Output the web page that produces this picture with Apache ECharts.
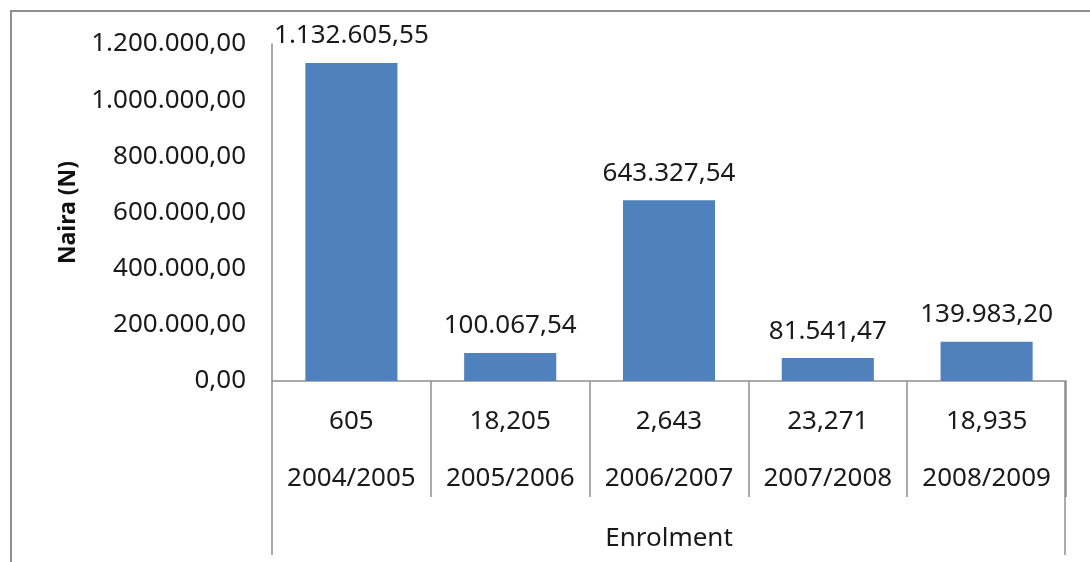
<!DOCTYPE html>
<html>
<head>
<meta charset="utf-8">
<script src="https://cdn.jsdelivr.net/npm/echarts@6/dist/echarts.min.js"></script>
<style>
html,body{margin:0;padding:0;background:#fff;overflow:hidden;}
#frame{position:absolute;left:10px;top:10px;width:1200px;height:700px;border-left:2px solid #8e8e8e;border-top:2px solid #8e8e8e;}
#chart{position:absolute;left:0;top:0;width:1090px;height:562px;}
</style>
</head>
<body>
<div id="frame"></div>
<div id="chart"></div>
<script>
const years = ['2004/2005','2005/2006','2006/2007','2007/2008','2008/2009'];
const enrolment = ['605','18,205','2,643','23,271','18,935'];
const naira = [1132605.55, 100067.54, 643327.54, 81541.47, 139983.20];
const yTicks = {min: 0, max: 1200000, interval: 200000};
const xTitle = 'Enrolment';
const yTitle = 'Naira (N)';

function fmt(v){
  const parts = Number(v).toFixed(2).split('.');
  const intPart = parts[0].replace(/\B(?=(\d{3})+(?!\d))/g, '.');
  return intPart + ',' + parts[1];
}

const font = '"Noto Sans", "Open Sans", sans-serif';
const chart = echarts.init(document.getElementById('chart'));
chart.setOption({
  animation: false,
  textStyle: {fontFamily: font},
  grid: {left: 272, right: 24, top: 44, bottom: 181, containLabel: false},
  xAxis: [{
    type: 'category',
    position: 'bottom',
    data: years.map((y, i) => enrolment[i] + '\n' + y),
    axisLine: {show: true, lineStyle: {color: '#8e8e8e', width: 1.5}},
    axisTick: {show: true, interval: 0, length: 116, lineStyle: {color: '#8e8e8e', width: 1.5}},
    axisLabel: {interval: 0, margin: 12, fontSize: 26, lineHeight: 57, color: '#1a1a1a', fontFamily: font}
  }, {
    type: 'value',
    position: 'bottom',
    offset: 0,
    min: 0, max: 1.001,
    name: xTitle,
    nameLocation: 'middle',
    nameGap: 143,
    nameTextStyle: {fontSize: 26, color: '#1a1a1a', fontFamily: font, lineHeight: 30},
    axisLine: {show: false},
    splitLine: {show: false},
    axisTick: {show: true, customValues: [0, 1], length: 174, lineStyle: {color: '#8e8e8e', width: 1.5}},
    axisLabel: {show: false}
  }],
  yAxis: {
    type: 'value',
    min: yTicks.min, max: yTicks.max, interval: yTicks.interval,
    name: yTitle,
    nameLocation: 'middle',
    nameGap: 192,
    nameRotate: 90,
    nameTextStyle: {fontSize: 23, fontWeight: 'bold', color: '#111', fontFamily: font},
    axisLine: {show: true, lineStyle: {color: '#8e8e8e', width: 1.5}},
    axisTick: {show: false},
    splitLine: {show: false},
    axisLabel: {formatter: fmt, fontSize: 26, color: '#1a1a1a', margin: 26, fontFamily: font}
  },
  series: [{
    type: 'bar',
    xAxisIndex: 0,
    data: naira,
    barWidth: '58%',
    itemStyle: {color: '#4f81bd'},
    label: {show: true, position: 'top', distance: 14, formatter: p => fmt(p.value), fontSize: 26, color: '#1a1a1a', fontFamily: font}
  }]
});
</script>
</body>
</html>
